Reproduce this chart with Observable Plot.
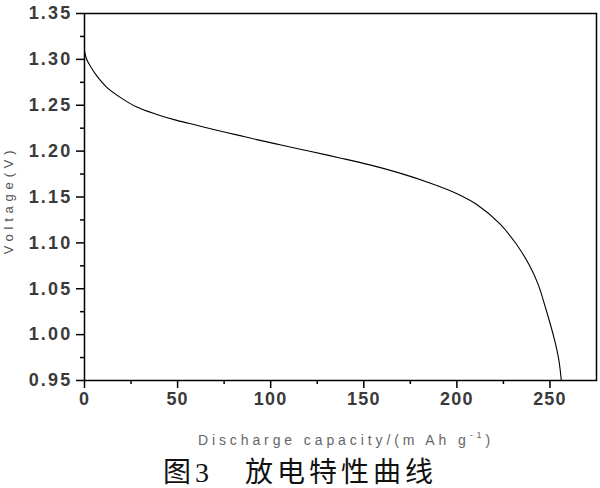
<!DOCTYPE html>
<html>
<head>
<meta charset="utf-8">
<script src="https://cdn.jsdelivr.net/npm/d3@7"></script>
<script src="https://cdn.jsdelivr.net/npm/@observablehq/plot@0.6"></script>
<style>
  html, body { margin: 0; padding: 0; background: #fff; }
  #chart { width: 600px; height: 452px; }
  #caption {
    width: 600px; height: 36px; line-height: 36px; text-align: center;
    position: relative; top: 3px;
    font-family: "Liberation Serif", "Noto Sans CJK SC", serif;
    font-size: 28px; letter-spacing: 4px; color: #111;
  }
</style>
</head>
<body>
<div id="chart"></div>
<div id="caption">图3　放电特性曲线</div>
<script>
// Discharge curve
const capacity = [0, 1, 3, 6.6, 12, 19.2, 28.1, 38.8, 49.6, 60.3, 71, 81.8, 92.5, 105, 121, 137.2, 153.3, 169.4, 185.5, 199.8, 210.5, 223, 232, 239.1, 243.6, 248.1, 252.5, 254.8, 256.1];
const voltage  = [1.309, 1.301, 1.293, 1.282, 1.2695, 1.2586, 1.2480, 1.2400, 1.2335, 1.2282, 1.2228, 1.2177, 1.2125, 1.207, 1.1998, 1.1926, 1.185, 1.176, 1.1653, 1.1539, 1.1421, 1.121, 1.0985, 1.075, 1.055, 1.026, 0.994, 0.972, 0.950];

const xTicks = [0, 50, 100, 150, 200, 250];
const xMinorTicks = [25, 75, 125, 175, 225];
const yTicks = [0.95, 1.00, 1.05, 1.10, 1.15, 1.20, 1.25, 1.30, 1.35];
const yMinorTicks = [0.975, 1.025, 1.075, 1.125, 1.175, 1.225, 1.275, 1.325];

const xLabel = "Discharge capacity/(m Ah g";
const xLabelSup = "-1";
const yLabel = "Voltage(V)";

const data = capacity.map((c, i) => ({c, v: voltage[i]}));

const chart = Plot.plot({
  width: 600,
  height: 452,
  marginLeft: 84,
  marginRight: 4,
  marginTop: 13,
  marginBottom: 72,
  style: {fontFamily: "'Liberation Sans', Arial, sans-serif", background: "#fff", color: "#000"},
  x: {domain: [0, 275]},
  y: {domain: [0.95, 1.35]},
  marks: [
    Plot.line(data, {x: "c", y: "v", curve: "catmull-rom", stroke: "#000", strokeWidth: 1.1}),
    Plot.axisX({ticks: xTicks, tickSize: 8, tickPadding: 4, tickFormat: d => String(d), label: null, strokeWidth: 1.5}),
    Plot.axisX({ticks: xMinorTicks, tickSize: 4, tickFormat: () => "", label: null, strokeWidth: 1.5}),
    Plot.axisY({ticks: yTicks, tickSize: 8, tickPadding: 4, tickFormat: d3.format(".2f"), label: null, strokeWidth: 1.5}),
    Plot.axisY({ticks: yMinorTicks, tickSize: 4, tickFormat: () => "", label: null, strokeWidth: 1.5}),
    Plot.frame({stroke: "#000", strokeWidth: 1.5})
  ]
});

document.getElementById("chart").appendChild(chart);

const svg = d3.select(chart);
// tick label styling
svg.selectAll("g[aria-label$='tick label']")
  .attr("font-size", 18)
  .attr("font-weight", "bold")
  .attr("fill", "#3a3a3a")
  .style("font-size", "18px")
  .style("font-weight", "bold");
svg.selectAll("g[aria-label='y-axis tick label']").attr("letter-spacing", 2.2);
svg.selectAll("g[aria-label='x-axis tick label']").attr("letter-spacing", 1.2);

// x axis title
const xt = svg.append("text")
  .attr("x", 346).attr("y", 445)
  .attr("text-anchor", "middle")
  .attr("font-family", "'Liberation Sans', Arial, sans-serif")
  .attr("font-size", 14)
  .attr("letter-spacing", 3.9)
  .attr("fill", "#666");
xt.append("tspan").text(xLabel);
xt.append("tspan").attr("font-size", 9).attr("dy", -7).text(xLabelSup);
xt.append("tspan").attr("dy", 7).text(")");

// y axis title
svg.append("text")
  .attr("transform", "translate(13,200) rotate(-90)")
  .attr("text-anchor", "middle")
  .attr("font-family", "'Liberation Sans', Arial, sans-serif")
  .attr("font-size", 13)
  .attr("letter-spacing", 4.8)
  .attr("fill", "#555")
  .text(yLabel);
</script>
</body>
</html>
